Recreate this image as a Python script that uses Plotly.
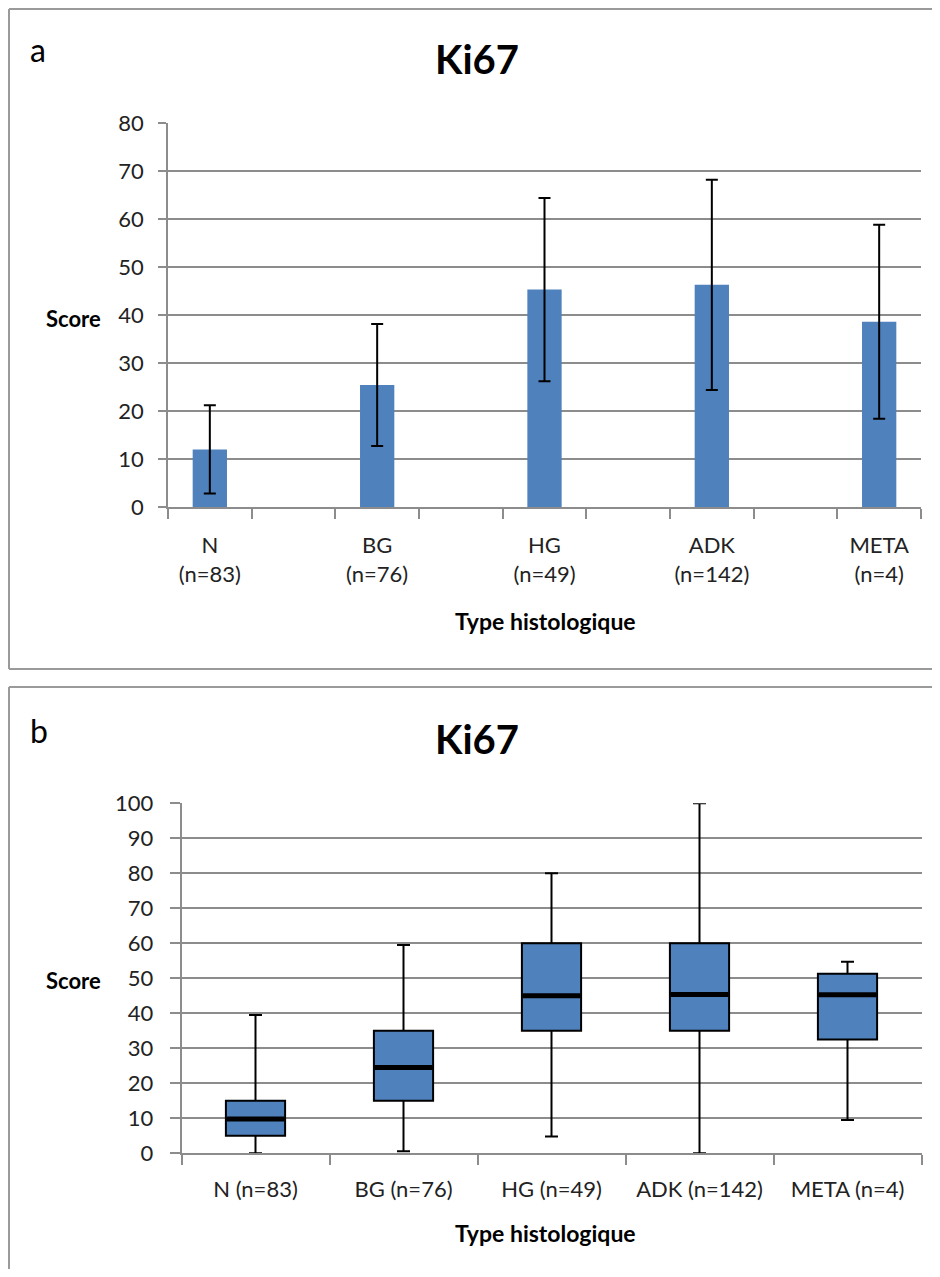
import plotly.graph_objects as go

# page is 940x1277, body has an 8px default margin -> figure is 924x1261
PAGE_W, PAGE_H = 940, 1277
OFF = 8
W, H = PAGE_W - 2 * OFF, PAGE_H - 2 * OFF

# ---- data ----
groups = ["N", "BG", "HG", "ADK", "META"]
counts = [83, 76, 49, 142, 4]
mean_score = [12.0, 25.4, 45.3, 46.3, 38.6]
sd_score = [9.2, 12.7, 19.1, 21.9, 20.2]

q1 = [5, 15, 35, 35, 32.5]
median = [9.8, 24.5, 45.0, 45.4, 45.3]
q3 = [15, 35, 60, 60, 51.3]
whisker_low = [0, 0.6, 4.8, 0, 9.5]
whisker_high = [39.5, 59.5, 80, 100, 54.7]

title = "Ki67"
y_title = "Score"
x_title = "Type histologique"

BLUE = "#4f81bd"
GRID = "#8c8c8c"
BORDER = "#9a9a9a"
TXT = "#222222"
FONT = "Lato"


def X(px):
    return min(max((px - OFF) / W, 0), 1)


def Y(py):
    return min(max(1 - (py - OFF) / H, 0), 1)


labels_a = [f"{g}<br>(n={n})" for g, n in zip(groups, counts)]
labels_b = [f"{g} (n={n})" for g, n in zip(groups, counts)]
pos_a = [2 * i for i in range(len(groups))]

fig = go.Figure()

# panel a: bars with error bars
fig.add_trace(go.Bar(
    x=pos_a, y=mean_score, width=0.41,
    marker=dict(color=BLUE, line=dict(width=0)),
    error_y=dict(type="data", array=sd_score, visible=True,
                 color="black", thickness=2, width=6),
    xaxis="x", yaxis="y", showlegend=False, hoverinfo="skip",
))

# panel b: box plots
fig.add_trace(go.Box(
    x=labels_b, q1=q1, median=median, q3=q3,
    lowerfence=whisker_low, upperfence=whisker_high,
    width=0.4, whiskerwidth=0.22, boxpoints=False,
    fillcolor=BLUE, line=dict(color="black", width=2),
    xaxis="x2", yaxis="y2", showlegend=False, hoverinfo="skip",
))
fig.add_trace(go.Scatter(
    x=labels_b, y=median, mode="markers",
    marker=dict(symbol="line-ew", size=41, color="black",
                line=dict(color="black", width=5)),
    xaxis="x2", yaxis="y2", showlegend=False, hoverinfo="skip",
))

axis_common = dict(
    showline=True, linecolor=GRID, linewidth=1.5,
    tickfont=dict(family=FONT, size=22, color=TXT),
    tickcolor=GRID, tickwidth=1.5,
    zeroline=False, fixedrange=True, automargin=False,
)

fig.update_layout(
    width=W, height=H,
    margin=dict(l=0, r=0, t=0, b=0, pad=0, autoexpand=False),
    paper_bgcolor="white", plot_bgcolor="white",
    showlegend=False,
    font=dict(family=FONT, color=TXT),
    xaxis=dict(
        domain=[X(168), X(921)], anchor="y",
        range=[-0.5, 8.5], tickmode="array", tickvals=pos_a, ticktext=labels_a,
        ticks="", showgrid=False, ticklabelstandoff=18,
        minor=dict(tickvals=[i - 0.5 for i in range(10)], ticks="outside",
                   ticklen=10, tickcolor=GRID, tickwidth=1.5, showgrid=False),
        **axis_common,
    ),
    yaxis=dict(
        domain=[Y(507), Y(123)], anchor="x",
        range=[0, 80], dtick=10, ticks="outside", ticklen=8,
        showgrid=True, gridcolor=GRID, gridwidth=1.5, ticklabelstandoff=10,
        **axis_common,
    ),
    xaxis2=dict(
        domain=[X(181.5), X(921.5)], anchor="y2",
        type="category", categoryorder="array", categoryarray=labels_b,
        range=[-0.5, 4.5], tickson="boundaries", ticks="outside", ticklen=10,
        showgrid=False, ticklabelstandoff=16,
        **axis_common,
    ),
    yaxis2=dict(
        domain=[Y(1153.3), Y(803.3)], anchor="x2",
        range=[0, 100], dtick=10, ticks="outside", ticklen=10,
        showgrid=True, gridcolor=GRID, gridwidth=1.5, ticklabelstandoff=12,
        **axis_common,
    ),
)


# panel borders (right/bottom edges run off the page in the reference)
def border_line(x0, y0, x1, y1):
    fig.add_shape(type="line", xref="paper", yref="paper",
                  x0=X(x0), y0=Y(y0), x1=X(x1), y1=Y(y1),
                  line=dict(color=BORDER, width=2), layer="below")


border_line(9, 9, 940, 9)
border_line(9, 9, 9, 669)
border_line(9, 669, 940, 669)
border_line(9, 687, 940, 687)
border_line(9, 687, 9, 1277)


def ann(text, px, py, size, bold=False, xanchor="center"):
    fig.add_annotation(
        text=f"<b>{text}</b>" if bold else text,
        x=X(px), y=Y(py), xref="paper", yref="paper",
        xanchor=xanchor, yanchor="middle", showarrow=False,
        font=dict(family=FONT, size=size, color="black" if bold or size > 25 else TXT),
    )


# panel a texts
ann("a", 28, 50, 32, xanchor="left")
ann(title, 477, 59, 40, bold=True)
ann(y_title, 73, 318, 22, bold=True)
ann(x_title, 545, 621, 23, bold=True)
# panel b texts
ann("b", 28, 730, 32, xanchor="left")
ann(title, 477, 739, 40, bold=True)
ann(y_title, 73, 980, 22, bold=True)
ann(x_title, 545, 1233, 23, bold=True)

fig.write_html("out.html")
